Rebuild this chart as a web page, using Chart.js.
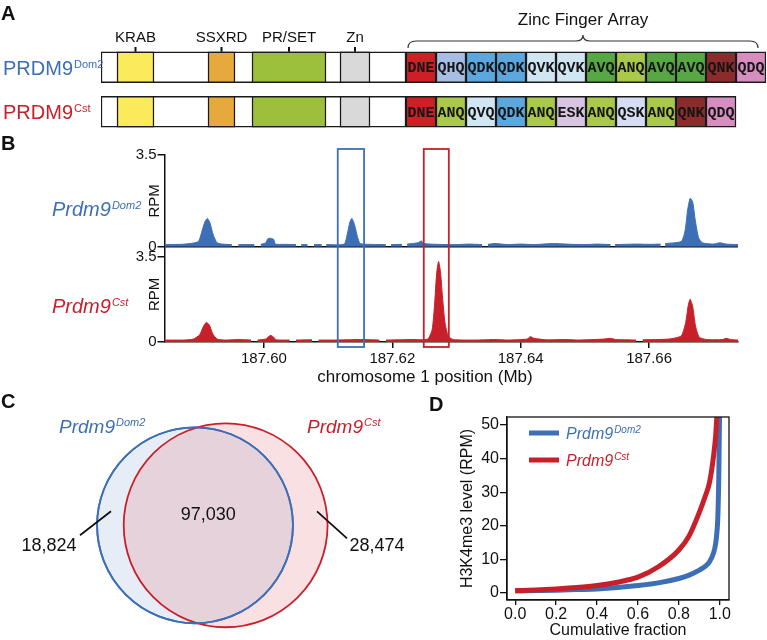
<!DOCTYPE html>
<html>
<head>
<meta charset="utf-8">
<script src="https://cdn.jsdelivr.net/npm/chart.js@4.4.1/dist/chart.umd.min.js"></script>
<style>
  body { margin: 0; background: #fff; }
  #fig { position: relative; width: 767px; height: 640px; overflow: hidden; }
  canvas { position: absolute; }
</style>
</head>
<body>
<div id="fig">
  <canvas id="domainChart" width="767" height="135" style="left:0;top:0"></canvas>
  <canvas id="trackChart" width="767" height="260" style="left:0;top:130px"></canvas>
  <canvas id="vennChart" width="420" height="255" style="left:0;top:385px"></canvas>
  <canvas id="cdfChart" width="347" height="255" style="left:420px;top:385px"></canvas>
</div>
<script>
const BLUE = "#3d6fb6";
const RED = "#c8202a";
const INK = "#111";
const FONT = '"Liberation Sans", Arial, Helvetica, sans-serif';

// ---- A: protein domains (positions along protein, figure units)
const proteinRows = ["Dom2", "Cst"];
const domainNames = ["KRAB", "SSXRD", "PR/SET", "Zn"];
const domainStart = [16, 107, 151, 239];
const domainEnd = [53, 134, 225, 269];
const domainColors = ["#fbea5b", "#e6a93b", "#9dc03c", "#d9d9d9"];
const znfStart = 305;
const znfLength = 30;
const dom2Fingers = ["DNE", "QHQ", "QDK", "QDK", "QVK", "QVK", "AVQ", "ANQ", "AVQ", "AVQ", "QNK", "QDQ"];
const cstFingers = ["DNE", "ANQ", "QVQ", "QDK", "ANQ", "ESK", "ANQ", "QSK", "ANQ", "QNK", "QDQ"];
const fingerColors = {
  DNE: "#cf1f26", QHQ: "#a8bde4", QDK: "#5ca7de", QVK: "#d0e6f3", QVQ: "#d0e6f3",
  AVQ: "#58a744", ANQ: "#aac94b", QNK: "#8c2b2c", QDQ: "#d68dc0", ESK: "#d7c5e1", QSK: "#d6ddf3"
};

// ---- B: H3K4me3 tracks (Mb, RPM); null = gap in coverage
const trackTicks = [187.60, 187.62, 187.64, 187.66];
const rpmTicks = [0, 3.5];
const dom2Pos = [187.5845, 187.5870, 187.5885, 187.5898, 187.5903, 187.5908, 187.5912, 187.5916, 187.5921, 187.5927, 187.5935, 187.5950, 187.5955, 187.5960, 187.5985, 187.5990, 187.5995, 187.6003, 187.6006, 187.6011, 187.6015, 187.6018, 187.6030, 187.6050, 187.6053, 187.6058, 187.6068, 187.6072, 187.6078, 187.6090, 187.6093, 187.6097, 187.6125, 187.6130, 187.6134, 187.6137, 187.6141, 187.6146, 187.6150, 187.6165, 187.6190, 187.6194, 187.6198, 187.6215, 187.6219, 187.6223, 187.6240, 187.6245, 187.6250, 187.6270, 187.6300, 187.6320, 187.6340, 187.6345, 187.6349, 187.6360, 187.6380, 187.6400, 187.6420, 187.6450, 187.6480, 187.6500, 187.6520, 187.6540, 187.6543, 187.6547, 187.6580, 187.6600, 187.6618, 187.6621, 187.6625, 187.6650, 187.6656, 187.6660, 187.6664, 187.6668, 187.6672, 187.6677, 187.6683, 187.6700, 187.6710, 187.6720, 187.6739];
const dom2Rpm = [0.08, 0.09, 0.12, 0.2, 0.55, 0.95, 1.08, 0.9, 0.45, 0.15, 0.1, 0.08, null, 0.08, 0.08, null, 0.09, 0.15, 0.3, 0.32, 0.28, 0.1, 0.09, 0.08, null, 0.08, 0.08, null, 0.08, 0.08, null, 0.08, 0.1, 0.5, 0.95, 1.08, 0.85, 0.35, 0.12, 0.09, 0.08, null, 0.08, 0.09, null, 0.1, 0.15, 0.22, 0.12, 0.09, 0.08, 0.1, 0.08, null, 0.09, 0.12, 0.08, 0.1, 0.08, 0.12, 0.09, 0.08, 0.1, 0.08, null, 0.08, 0.1, 0.09, 0.1, null, 0.12, 0.2, 0.6, 1.4, 1.85, 1.7, 1.0, 0.35, 0.15, 0.1, 0.15, 0.1, 0.08];
const cstPos = [187.5845, 187.5875, 187.5890, 187.5900, 187.5905, 187.5910, 187.5915, 187.5920, 187.5927, 187.5940, 187.5960, 187.5980, 187.5985, 187.5990, 187.6003, 187.6007, 187.6011, 187.6015, 187.6019, 187.6040, 187.6045, 187.6050, 187.6075, 187.6080, 187.6085, 187.6110, 187.6150, 187.6180, 187.6185, 187.6190, 187.6230, 187.6255, 187.6262, 187.6266, 187.6269, 187.6272, 187.6275, 187.6278, 187.6282, 187.6287, 187.6295, 187.6330, 187.6360, 187.6380, 187.6410, 187.6415, 187.6421, 187.6440, 187.6470, 187.6490, 187.6530, 187.6540, 187.6548, 187.6580, 187.6585, 187.6590, 187.6630, 187.6650, 187.6657, 187.6661, 187.6664, 187.6668, 187.6672, 187.6678, 187.6690, 187.6715, 187.6720, 187.6727, 187.6739];
const cstRpm = [0.08, 0.08, 0.12, 0.3, 0.6, 0.8, 0.7, 0.35, 0.12, 0.08, 0.1, 0.08, null, 0.08, 0.12, 0.22, 0.27, 0.2, 0.09, 0.08, null, 0.08, 0.09, null, 0.08, 0.08, 0.1, 0.08, null, 0.08, 0.1, 0.12, 0.5, 1.6, 2.8, 3.3, 2.9, 1.9, 0.8, 0.25, 0.1, 0.08, 0.1, 0.08, 0.12, 0.22, 0.15, 0.09, 0.1, 0.08, 0.12, 0.15, 0.1, 0.08, null, 0.09, 0.12, 0.25, 0.8, 1.5, 1.75, 1.45, 0.7, 0.2, 0.1, 0.1, 0.15, 0.1, 0.08];
const highlightStart = [187.6115, 187.6249];
const highlightEnd = [187.6156, 187.6288];
const highlightColors = [BLUE, RED];

// ---- C: peak overlap counts
const vennCounts = [18824, 97030, 28474]; // Dom2 only, shared, Cst only

// ---- D: cumulative distribution of H3K4me3 level
const cdfFraction = [0, 0.1, 0.2, 0.3, 0.4, 0.5, 0.6, 0.7, 0.8, 0.85, 0.9, 0.93, 0.95, 0.97, 0.98, 0.985, 0.99, 0.995, 1.0];
const dom2Level = [0.6, 0.7, 0.8, 1.0, 1.2, 1.6, 2.2, 3.0, 4.3, 5.3, 6.8, 8.0, 9.3, 12, 14.8, 17.5, 22, 34, 60];
const cstLevel = [0.7, 0.9, 1.2, 1.6, 2.2, 3.2, 4.7, 7.8, 12.8, 17, 24, 29, 33, 41, 47, 52, 58, 65, 75];
const cdfXTicks = [0, 0.2, 0.4, 0.6, 0.8, 1.0];
const cdfYTicks = [0, 10, 20, 30, 40, 50];

Chart.defaults.font.family = FONT;
Chart.defaults.color = INK;
Chart.defaults.animation = false;
Chart.defaults.responsive = false;
Chart.defaults.devicePixelRatio = 1;
Chart.defaults.plugins.legend.display = false;
Chart.defaults.plugins.tooltip.enabled = false;

function supText(ctx, base, sup, x, y, size, supSize, color, italic) {
  const style = italic ? "italic " : "";
  ctx.save();
  ctx.fillStyle = color;
  ctx.textAlign = "left";
  ctx.textBaseline = "alphabetic";
  ctx.font = style + size + "px " + FONT;
  ctx.fillText(base, x, y);
  const w = ctx.measureText(base).width;
  ctx.font = style + supSize + "px " + FONT;
  ctx.fillText(sup, x + w + 1, y - size * 0.36);
  ctx.restore();
}

function panelLetter(ctx, letter, x, y) {
  ctx.save();
  ctx.fillStyle = INK;
  ctx.font = "bold 20px " + FONT;
  ctx.textBaseline = "alphabetic";
  ctx.fillText(letter, x, y);
  ctx.restore();
}

// ================= Panel A =================
const fingerRows = [dom2Fingers, cstFingers];
const nSlots = Math.max(...fingerRows.map(r => r.length));
const barStyle = { borderColor: "#1a1a1a", borderWidth: 1.5, borderSkipped: false, grouped: false, barThickness: 31 };
const domainDatasets = [
  Object.assign({ data: proteinRows.map(() => [0, znfStart]), backgroundColor: "#fff", order: 3 }, barStyle)
];
domainNames.forEach((name, i) => {
  domainDatasets.push(Object.assign({
    data: proteinRows.map(() => [domainStart[i], domainEnd[i]]),
    backgroundColor: domainColors[i], order: 2
  }, barStyle));
});
for (let k = 0; k < nSlots; k++) {
  domainDatasets.push(Object.assign({
    data: fingerRows.map(r => k < r.length ? [znfStart + k * znfLength, znfStart + (k + 1) * znfLength] : null),
    backgroundColor: fingerRows.map(r => fingerColors[r[k]] || "rgba(0,0,0,0)"),
    fingerCodes: fingerRows.map(r => r[k]),
    order: 1
  }, barStyle));
}

const domainLabels = {
  id: "domainLabels",
  afterDraw(chart) {
    const ctx = chart.ctx;
    const x = chart.scales.x;
    const top = chart.getDatasetMeta(0).data[0].y - 15.5;
    ctx.save();
    // zinc finger codes
    ctx.font = "bold 15px \"Liberation Mono\", \"Courier New\", monospace";
    ctx.textAlign = "center";
    ctx.textBaseline = "middle";
    ctx.fillStyle = "#151515";
    chart.data.datasets.forEach((ds, di) => {
      if (!ds.fingerCodes) return;
      chart.getDatasetMeta(di).data.forEach((el, j) => {
        const code = ds.fingerCodes[j];
        if (!code) return;
        const p = el.getProps(["x", "y", "base"], true);
        ctx.fillText(code, (p.x + p.base) / 2, p.y + 1);
      });
    });
    // domain names with small ticks
    ctx.font = "15px " + FONT;
    ctx.fillStyle = INK;
    ctx.strokeStyle = INK;
    ctx.lineWidth = 2;
    domainNames.forEach((name, i) => {
      const cx = x.getPixelForValue((domainStart[i] + domainEnd[i]) / 2);
      ctx.fillText(name, cx, 38);
      ctx.beginPath();
      ctx.moveTo(cx, 47);
      ctx.lineTo(cx, top);
      ctx.stroke();
    });
    // zinc finger array brace
    const x1 = x.getPixelForValue(znfStart) + 2;
    const x2 = x.getPixelForValue(znfStart + nSlots * znfLength) - 8;
    const mid = (x1 + x2) / 2;
    ctx.font = "17px " + FONT;
    ctx.fillText("Zinc Finger Array", mid, 20);
    ctx.strokeStyle = "#333";
    ctx.lineWidth = 1.2;
    ctx.beginPath();
    ctx.moveTo(x1, 48);
    ctx.quadraticCurveTo(x1, 41, x1 + 8, 41);
    ctx.lineTo(mid - 7, 41);
    ctx.quadraticCurveTo(mid, 41, mid, 35);
    ctx.quadraticCurveTo(mid, 41, mid + 7, 41);
    ctx.lineTo(x2 - 8, 41);
    ctx.quadraticCurveTo(x2, 41, x2, 48);
    ctx.stroke();
    ctx.restore();
    supText(ctx, "PRDM9", "Dom2", 3, 75, 20, 11, BLUE, false);
    supText(ctx, "PRDM9", "Cst", 3, 119, 20, 11, RED, false);
    panelLetter(ctx, "A", 1, 20);
  }
};

new Chart(document.getElementById("domainChart"), {
  type: "bar",
  data: { labels: proteinRows, datasets: domainDatasets },
  options: {
    indexAxis: "y",
    layout: { padding: { left: 101, right: 1, top: 45, bottom: 1 } },
    scales: {
      x: { type: "linear", display: false, min: 0, max: znfStart + nSlots * znfLength },
      y: { display: false }
    }
  },
  plugins: [domainLabels]
});

// ================= Panel B =================
const trackDecor = {
  id: "trackDecor",
  afterDraw(chart) {
    const ctx = chart.ctx;
    const x = chart.scales.x;
    const area = chart.chartArea;
    ctx.save();
    ctx.lineWidth = 1.8;
    highlightStart.forEach((s, i) => {
      const a = x.getPixelForValue(s);
      const b = x.getPixelForValue(highlightEnd[i]);
      ctx.strokeStyle = highlightColors[i];
      ctx.strokeRect(a, area.top - 6, b - a, area.bottom - area.top + 11);
    });
    ctx.fillStyle = INK;
    ctx.font = "17px " + FONT;
    ctx.textAlign = "center";
    ctx.textBaseline = "middle";
    ctx.fillText("chromosome 1 position (Mb)", 425, 247);
    ctx.restore();
    supText(ctx, "Prdm9", "Dom2", 52, 86, 20, 11, BLUE, true);
    supText(ctx, "Prdm9", "Cst", 52, 183, 20, 11, RED, true);
    panelLetter(ctx, "B", 1, 20);
  }
};

function rpmAxis(max, weight, zeroLine) {
  return {
    type: "linear", position: "left", stack: "tracks", stackWeight: weight,
    min: 0, max: max,
    afterBuildTicks: s => { s.ticks = rpmTicks.map(v => ({ value: v })); },
    afterFit: s => { s.width = 35; },
    ticks: { font: { size: 15 }, color: INK, padding: 1, callback: v => v === 0 ? "0" : v.toFixed(1) },
    grid: {
      drawOnChartArea: zeroLine, tickLength: 7, lineWidth: 1.5, tickColor: INK,
      color: ctx => (zeroLine && ctx.tick && ctx.tick.value === 0) ? INK : "rgba(0,0,0,0)"
    },
    border: { color: INK, width: 1.5 },
    title: { display: true, text: "RPM", font: { size: 15 }, color: INK, padding: { top: 16, bottom: 0 } }
  };
}

new Chart(document.getElementById("trackChart"), {
  type: "line",
  data: {
    datasets: [
      { data: dom2Pos.map((p, i) => ({ x: p, y: dom2Rpm[i] })), yAxisID: "yTop",
        borderColor: BLUE, backgroundColor: BLUE, fill: "origin", borderWidth: 1, pointRadius: 0, tension: 0.2 },
      { data: cstPos.map((p, i) => ({ x: p, y: cstRpm[i] })), yAxisID: "yBot",
        borderColor: RED, backgroundColor: RED, fill: "origin", borderWidth: 1, pointRadius: 0, tension: 0.2 }
    ]
  },
  options: {
    spanGaps: false,
    layout: { padding: { left: 129.5, right: 29, top: 25, bottom: 2 } },
    scales: {
      x: {
        type: "linear", min: 187.58451, max: 187.67385,
        afterBuildTicks: s => { s.ticks = trackTicks.map(v => ({ value: v })); },
        afterFit: s => { s.height = 46; },
        ticks: { font: { size: 15 }, color: INK, padding: 2, maxRotation: 0, callback: v => v.toFixed(2) },
        grid: { drawOnChartArea: false, tickLength: 6, color: INK, lineWidth: 1.5 },
        border: { color: INK, width: 1.5 }
      },
      yBot: rpmAxis(3.91, 95.3, false),
      yTop: rpmAxis(3.5, 91.7, true)
    }
  },
  plugins: [trackDecor]
});

// ================= Panel C =================
function lensArea(r1, r2, d) {
  const a = r1 * r1 * Math.acos((d * d + r1 * r1 - r2 * r2) / (2 * d * r1));
  const b = r2 * r2 * Math.acos((d * d + r2 * r2 - r1 * r1) / (2 * d * r2));
  const c = 0.5 * Math.sqrt((-d + r1 + r2) * (d + r1 - r2) * (d - r1 + r2) * (d + r1 + r2));
  return a + b - c;
}
const rDom2 = Math.sqrt((vennCounts[0] + vennCounts[1]) / Math.PI);
const rCst = Math.sqrt((vennCounts[1] + vennCounts[2]) / Math.PI);
let lo = Math.abs(rCst - rDom2) + 1e-6, hi = rDom2 + rCst;
for (let i = 0; i < 60; i++) {
  const m = (lo + hi) / 2;
  if (lensArea(rDom2, rCst, m) > vennCounts[1]) lo = m; else hi = m;
}
const centerGap = (lo + hi) / 2;
const vennPx = 0.51;       // pixels per unit
const vennCx = 195, vennCy = 140.3;

function radiusPx(r) {
  return ctx => {
    const s = ctx.chart.scales.x;
    return s.getPixelForValue(r) - s.getPixelForValue(0);
  };
}

const vennDecor = {
  id: "vennDecor",
  afterDraw(chart) {
    const ctx = chart.ctx;
    const x = chart.scales.x, y = chart.scales.y;
    const bx = x.getPixelForValue(0), by = y.getPixelForValue(0);
    const lensMid = (x.getPixelForValue(rDom2) + x.getPixelForValue(centerGap - rCst)) / 2;
    ctx.save();
    ctx.fillStyle = INK;
    ctx.font = "18px " + FONT;
    ctx.textAlign = "center";
    ctx.textBaseline = "middle";
    const fmt = n => n.toLocaleString("en-US");
    ctx.fillText(fmt(vennCounts[1]), lensMid, by - 10);
    ctx.fillText(fmt(vennCounts[0]), bx - 146, by + 21);
    ctx.fillText(fmt(vennCounts[2]), bx + 182, by + 21);
    ctx.strokeStyle = INK;
    ctx.lineWidth = 1.8;
    ctx.beginPath();
    ctx.moveTo(bx - 84, by - 14); ctx.lineTo(bx - 115, by + 10);
    ctx.moveTo(bx + 122, by - 14); ctx.lineTo(bx + 152, by + 13);
    ctx.stroke();
    ctx.restore();
    supText(ctx, "Prdm9", "Dom2", 59, 48, 19, 11, BLUE, true);
    supText(ctx, "Prdm9", "Cst", 307, 48, 19, 11, RED, true);
    panelLetter(ctx, "C", 1, 23);
  }
};

const vennCanvas = document.getElementById("vennChart");
new Chart(vennCanvas, {
  type: "scatter",
  data: {
    datasets: [
      { data: [{ x: 0, y: 0 }], pointRadius: radiusPx(rDom2), backgroundColor: "rgba(0,0,0,0)",
        borderColor: BLUE, pointBorderWidth: 1.8, clip: false, order: 0 },
      { data: [{ x: centerGap, y: 0 }], pointRadius: radiusPx(rCst), backgroundColor: "rgba(210,40,60,0.14)",
        borderColor: RED, pointBorderWidth: 1.8, clip: false, order: 1 },
      { data: [{ x: 0, y: 0 }], pointRadius: radiusPx(rDom2), backgroundColor: "rgba(61,111,182,0.12)",
        borderColor: BLUE, pointBorderWidth: 1.8, clip: false, order: 2 }
    ]
  },
  options: {
    layout: { padding: 0 },
    events: [],
    scales: {
      x: { type: "linear", display: false, min: -vennCx / vennPx, max: (vennCanvas.width - vennCx) / vennPx },
      y: { type: "linear", display: false, min: -(vennCanvas.height - vennCy) / vennPx, max: vennCy / vennPx }
    }
  },
  plugins: [vennDecor]
});

// ================= Panel D =================
const cdfDecor = {
  id: "cdfDecor",
  afterDraw(chart) {
    const ctx = chart.ctx;
    const a = chart.chartArea;
    ctx.save();
    ctx.strokeStyle = INK;
    ctx.lineWidth = 1.3;
    ctx.strokeRect(a.left, a.top, a.right - a.left, a.bottom - a.top);
    ctx.lineWidth = 5;
    [BLUE, RED].forEach((c, i) => {
      ctx.strokeStyle = c;
      ctx.beginPath();
      ctx.moveTo(a.left + 22, a.top + 16 + i * 27);
      ctx.lineTo(a.left + 52, a.top + 16 + i * 27);
      ctx.stroke();
    });
    ctx.restore();
    supText(ctx, "Prdm9", "Dom2", a.left + 59, a.top + 22, 16, 10, BLUE, true);
    supText(ctx, "Prdm9", "Cst", a.left + 59, a.top + 49, 16, 10, RED, true);
    panelLetter(ctx, "D", 9, 26);
  }
};

new Chart(document.getElementById("cdfChart"), {
  type: "line",
  data: {
    datasets: [
      { data: cdfFraction.map((f, i) => ({ x: f, y: dom2Level[i] })), borderColor: BLUE, borderWidth: 5,
        pointRadius: 0, cubicInterpolationMode: "monotone", order: 1 },
      { data: cdfFraction.map((f, i) => ({ x: f, y: cstLevel[i] })), borderColor: RED, borderWidth: 5,
        pointRadius: 0, cubicInterpolationMode: "monotone", order: 0 }
    ]
  },
  options: {
    layout: { padding: { left: 38, right: 38, top: 32, bottom: 0 } },
    scales: {
      x: {
        type: "linear", min: -0.04, max: 1.045,
        afterBuildTicks: s => { s.ticks = cdfXTicks.map(v => ({ value: v })); },
        afterFit: s => { s.height = 40; },
        ticks: { font: { size: 16 }, color: INK, padding: 0, maxRotation: 0, callback: v => v.toFixed(1) },
        grid: { drawOnChartArea: false, tickLength: 5, color: INK, lineWidth: 1.3 },
        border: { color: INK, width: 1.3 },
        title: { display: true, text: "Cumulative fraction", font: { size: 16 }, color: INK, padding: 0 }
      },
      y: {
        type: "linear", min: -2.1, max: 52.4,
        afterBuildTicks: s => { s.ticks = cdfYTicks.map(v => ({ value: v })); },
        afterFit: s => { s.width = 49; },
        ticks: { font: { size: 16 }, color: INK, padding: 1, callback: v => String(v) },
        grid: { drawOnChartArea: false, tickLength: 7, color: INK, lineWidth: 1.3 },
        border: { color: INK, width: 1.3 },
        title: { display: true, text: "H3K4me3 level (RPM)", font: { size: 16 }, color: INK, padding: 0 }
      }
    }
  },
  plugins: [cdfDecor]
});
</script>
</body>
</html>
